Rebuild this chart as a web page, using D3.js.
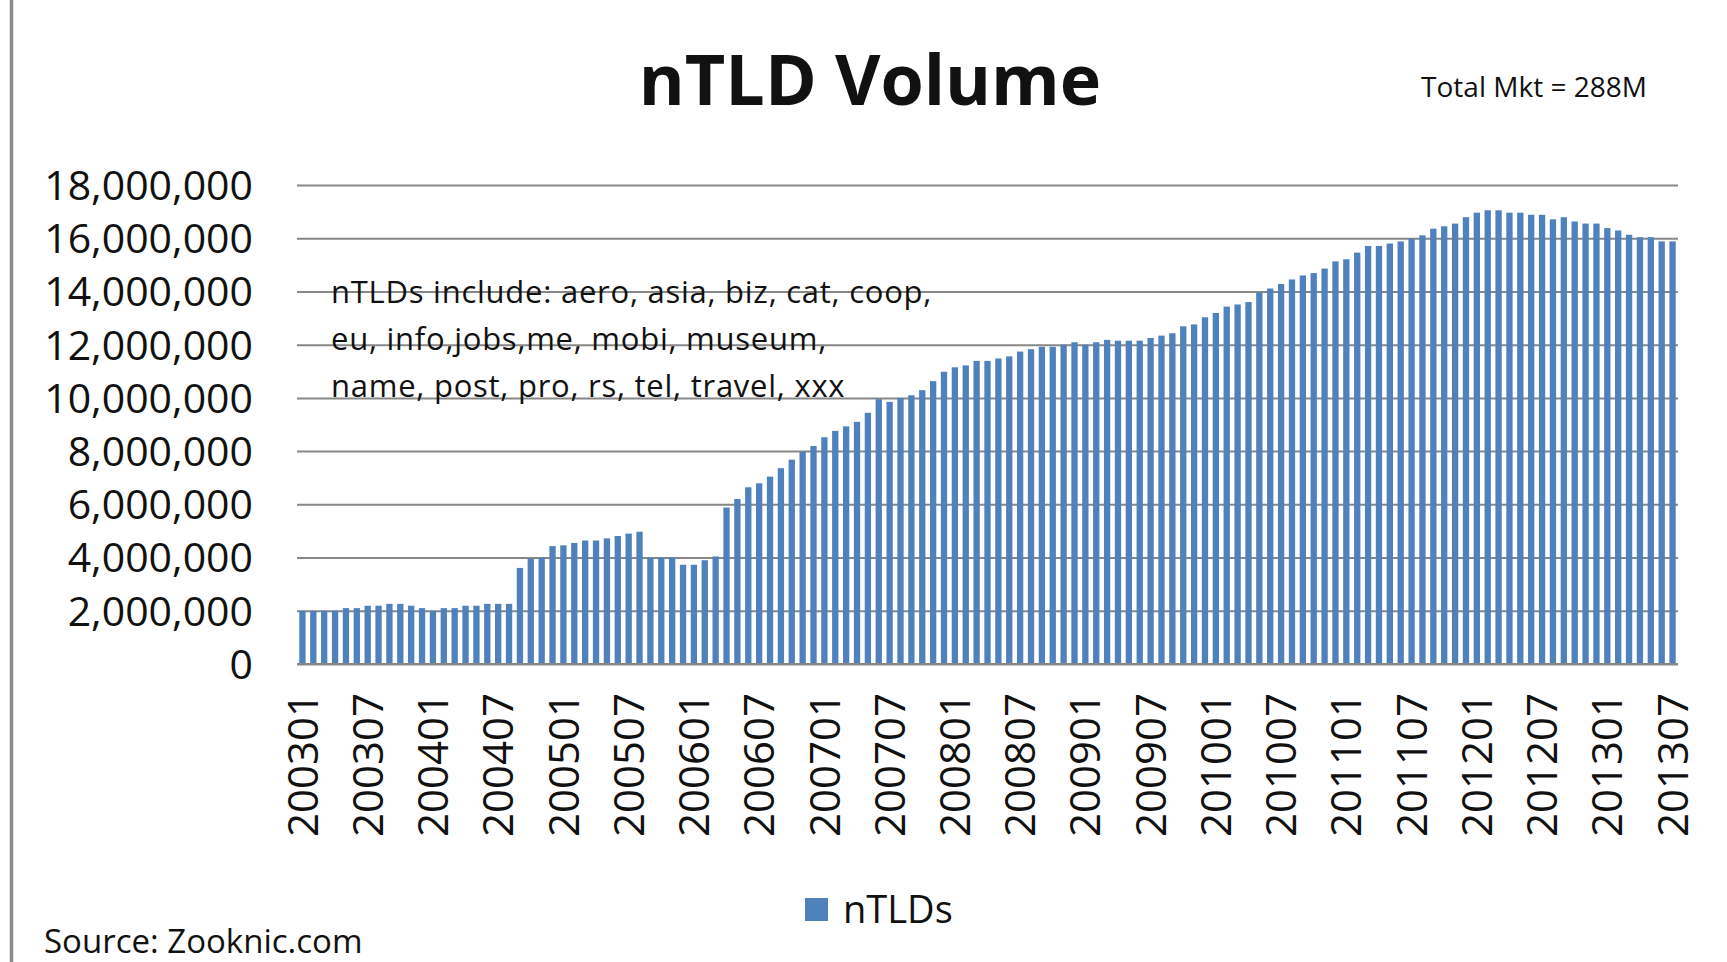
<!DOCTYPE html>
<html>
<head>
<meta charset="utf-8">
<title>nTLD Volume</title>
<script src="https://cdn.jsdelivr.net/npm/d3@7/dist/d3.min.js"></script>
<style>
  html, body { margin: 0; padding: 0; background: #ffffff; }
  svg { display: block; }
  text { font-family: "Open Sans", "Noto Sans", sans-serif; fill: #111; }
</style>
</head>
<body>
<svg id="chart" width="1727" height="962"></svg>
<script>
// Monthly nTLD registrations, 2003-01 .. 2013-07 (millions of domains)
const startYear = 2003, startMonth = 1, monthCount = 127;
const months = [];
for (let k = 0; k < monthCount; k++) {
  const y = startYear + Math.floor((startMonth - 1 + k) / 12);
  const m = ((startMonth - 1 + k) % 12) + 1;
  months.push(String(y) + String(m).padStart(2, "0"));
}

const ntlds = [
  // 2003-01 .. 2004-08
  2.00, 2.00, 2.00, 2.00, 2.10, 2.10, 2.19, 2.19, 2.26, 2.26, 2.19, 2.10,
  2.00, 2.10, 2.10, 2.19, 2.19, 2.26, 2.26, 2.26,
  // 2004-09 .. 2005-08
  3.61, 3.96, 4.00, 4.43, 4.46, 4.55, 4.64, 4.64, 4.72, 4.81, 4.90, 4.97,
  // 2005-09 .. 2006-03
  4.00, 4.00, 4.00, 3.73, 3.73, 3.90, 4.04,
  // 2006-04 .. 2007-04
  5.88, 6.20, 6.64, 6.79, 7.04, 7.36, 7.68, 7.98, 8.19, 8.52, 8.76, 8.93, 9.10,
  // 2007-05 .. 2009-06
  9.44, 9.95, 9.85, 10.00, 10.10, 10.29, 10.63, 10.98, 11.15, 11.22, 11.39, 11.39,
  11.48, 11.56, 11.74, 11.83, 11.92, 11.92, 12.00, 12.09, 12.00, 12.09, 12.18, 12.15,
  12.15, 12.15,
  // 2009-07 .. 2011-08
  12.25, 12.34, 12.43, 12.69, 12.76, 13.03, 13.19, 13.43, 13.51, 13.60, 13.96, 14.11,
  14.28, 14.45, 14.60, 14.69, 14.86, 15.13, 15.21, 15.46, 15.71, 15.71, 15.80, 15.88,
  15.98, 16.11,
  // 2011-09 .. 2013-07
  16.36, 16.45, 16.55, 16.79, 16.96, 17.05, 17.05, 16.96, 16.96, 16.88, 16.88, 16.71,
  16.79, 16.63, 16.55, 16.55, 16.38, 16.29, 16.13, 16.04, 16.04, 15.88, 15.88
];
const UNIT = 1e6;

const yTicks = [0, 2e6, 4e6, 6e6, 8e6, 10e6, 12e6, 14e6, 16e6, 18e6];
const xTickLabels = [
  "200301", "200307", "200401", "200407", "200501", "200507", "200601", "200607",
  "200701", "200707", "200801", "200807", "200901", "200907", "201001", "201007",
  "201101", "201107", "201201", "201207", "201301", "201307"
];

const titleText = "nTLD Volume";
const totalText = "Total Mkt = 288M";
const noteLines = [
  "nTLDs include: aero, asia, biz, cat, coop,",
  "eu, info,jobs,me, mobi, museum,",
  "name, post, pro, rs, tel, travel, xxx"
];
const seriesName = "nTLDs";
const sourceText = "Source: Zooknic.com";

// ---- layout ----
const svg = d3.select("#chart");
const W = 1727, H = 962;
const plot = { left: 297, right: 1678, top: 185, bottom: 664 };
const barColor = "#4f81bd";
const gridColor = "#878787";

svg.append("rect").attr("width", W).attr("height", H).attr("fill", "#fff");

// slide frame edge on the left
svg.append("line")
  .attr("x1", 11.5).attr("x2", 11.5).attr("y1", 0).attr("y2", H)
  .attr("stroke", "#8a8a8a").attr("stroke-width", 3.5);

const x = d3.scaleBand()
  .domain(months)
  .range([plot.left, plot.right])
  .paddingInner(0.42)
  .paddingOuter(0.21);

const y = d3.scaleLinear()
  .domain([0, 18e6])
  .range([plot.bottom, plot.top]);

// horizontal gridlines + y labels through a left axis
const yAxis = d3.axisLeft(y)
  .tickValues(yTicks)
  .tickFormat(d3.format(","))
  .tickSize(-(plot.right - plot.left))
  .tickPadding(0);

const gy = svg.append("g")
  .attr("transform", `translate(${plot.left},0)`)
  .call(yAxis);
gy.select(".domain").remove();
gy.selectAll(".tick line")
  .attr("stroke", gridColor).attr("stroke-width", 2);
gy.selectAll(".tick text")
  .attr("x", -44)
  .attr("dy", "0.35em")
  .style("font-size", "41px")
  .attr("fill", "#111");

// bars
svg.append("g").selectAll("rect")
  .data(ntlds.map((v, i) => ({ month: months[i], value: v * UNIT })))
  .join("rect")
  .attr("x", d => x(d.month))
  .attr("width", x.bandwidth())
  .attr("y", d => y(d.value))
  .attr("height", d => y(0) - y(d.value))
  .attr("fill", barColor);

// baseline on top of the bars
svg.append("line")
  .attr("x1", plot.left).attr("x2", plot.right)
  .attr("y1", y(0)).attr("y2", y(0))
  .attr("stroke", gridColor).attr("stroke-width", 2);

// x axis labels, rotated, every sixth month
const xAxis = d3.axisBottom(x)
  .tickValues(xTickLabels)
  .tickSize(0)
  .tickPadding(0);
const gx = svg.append("g")
  .attr("transform", `translate(0,${plot.bottom})`)
  .call(xAxis);
gx.select(".domain").remove();
gx.selectAll(".tick text")
  .attr("transform", "rotate(-90)")
  .attr("x", -29)
  .attr("y", 0)
  .attr("dy", "0.36em")
  .attr("text-anchor", "end")
  .style("font-size", "42px")
  .attr("fill", "#111");

// annotation listing the included TLDs
svg.append("g").selectAll("text")
  .data(noteLines)
  .join("text")
  .attr("x", 331)
  .attr("y", (d, i) => 303 + i * 47)
  .style("font-size", "31px")
  .style("letter-spacing", "0.75px")
  .attr("fill", "#222")
  .text(d => d);

// title
svg.append("text")
  .attr("x", 870).attr("y", 105)
  .attr("text-anchor", "middle")
  .style("font-size", "70px")
  .style("font-weight", "700")
  .attr("fill", "#000")
  .text(titleText);

svg.append("text")
  .attr("x", 1534).attr("y", 97)
  .attr("text-anchor", "middle")
  .style("font-size", "28px")
  .attr("fill", "#000")
  .text(totalText);

// legend
const legend = svg.append("g").attr("transform", "translate(805,898)");
legend.append("rect")
  .attr("width", 23).attr("height", 23)
  .attr("fill", barColor);
legend.append("text")
  .attr("x", 38).attr("y", 12)
  .attr("dy", "0.35em")
  .style("font-size", "38px")
  .attr("fill", "#111")
  .text(seriesName);

// source note
svg.append("text")
  .attr("x", 44).attr("y", 953)
  .style("font-size", "33px")
  .attr("fill", "#222")
  .text(sourceText);
</script>
</body>
</html>
